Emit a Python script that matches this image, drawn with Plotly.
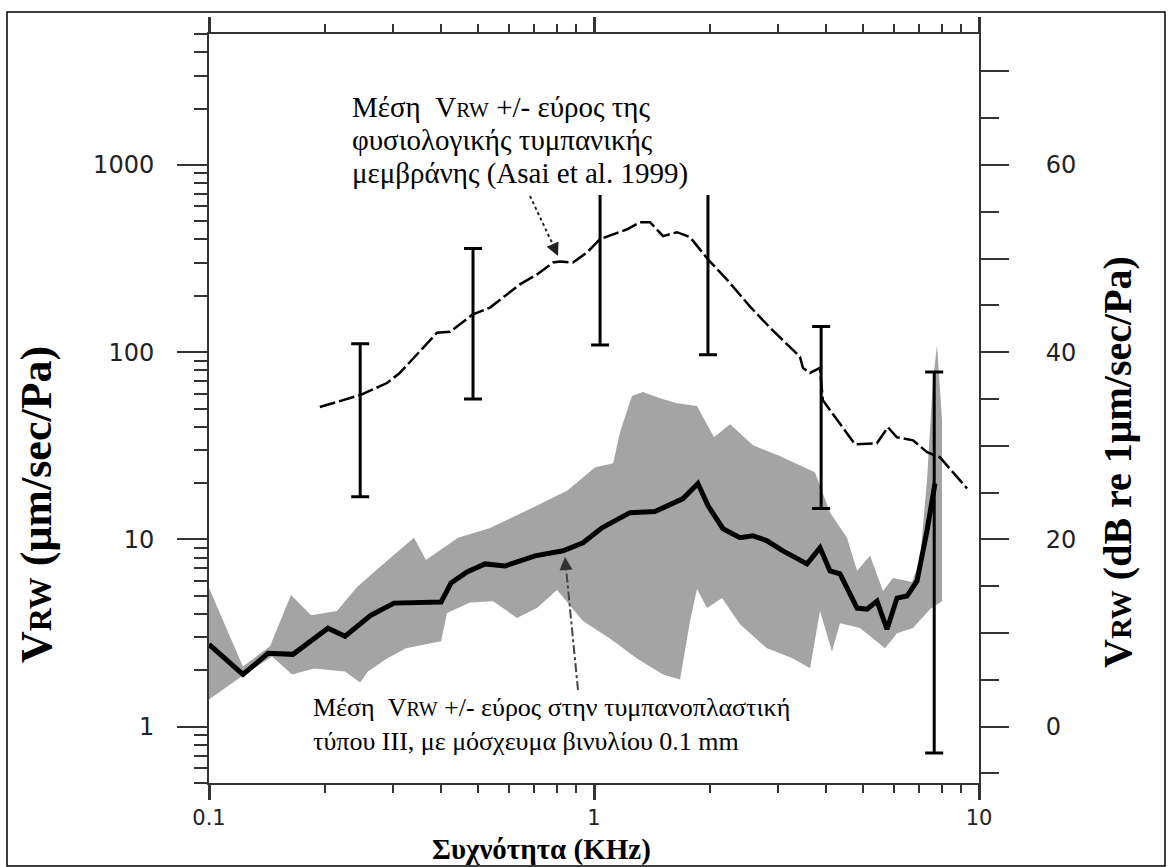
import math
import plotly.graph_objects as go

# ---------------- data ----------------
# Normal TM mean (Asai et al. 1999), dashed curve
normal_x = [0.194, 0.247, 0.290, 0.313, 0.391, 0.423, 0.482, 0.537, 0.594, 0.642,
            0.711, 0.783, 0.816, 0.882, 0.959, 1.037, 1.219, 1.316, 1.398, 1.511,
            1.643, 1.776, 1.977, 2.215, 2.543, 2.866, 3.428, 3.49, 3.64, 3.86,
            3.93, 4.355, 4.76, 5.43, 5.80, 6.12, 6.74, 7.33, 7.92, 9.31]
normal_y = [50.9, 59, 68.4, 77.4, 127, 128.5, 158, 173, 203, 230,
            260, 301, 305, 301, 341, 401, 453, 494, 494, 416,
            437, 411, 313, 244, 175, 135, 94.4, 82.3, 77.4, 82.3,
            55.4, 41.7, 32.2, 32.6, 39.7, 35.1, 33.8, 29.2, 27.4, 18.7]

# Normal TM range (error bars)
range_x = [0.247, 0.485, 1.037, 1.977, 3.89, 7.65]
range_lo = [16.9, 56.2, 109, 96.7, 14.6, 0.724]
range_hi = [110.8, 358, 1100, 1100, 137, 78.4]

# Type III tympanoplasty mean (thick line)
tymp_x = [0.100, 0.1225, 0.1423, 0.1652, 0.2037, 0.2256, 0.2635, 0.3024, 0.4006, 0.4252,
          0.4679, 0.5212, 0.5875, 0.7028, 0.8310, 0.9363, 1.049, 1.240, 1.440, 1.703,
          1.862, 1.977, 2.163, 2.394, 2.588, 2.814, 3.096, 3.575, 3.864, 4.102,
          4.355, 4.822, 5.119, 5.434, 5.768, 6.124, 6.501, 6.902, 7.327, 7.686]
tymp_y = [2.752, 1.899, 2.462, 2.432, 3.355, 3.038, 3.938, 4.567, 4.625, 5.848,
          6.70, 7.396, 7.216, 8.166, 8.687, 9.59, 11.54, 13.89, 14.07, 16.51,
          19.88, 15.15, 11.40, 10.20, 10.45, 9.83, 8.687, 7.396, 9.01, 6.785,
          6.537, 4.295, 4.242, 4.682, 3.313, 4.859, 4.982, 5.995, 11.12, 19.88]

# Tympanoplasty range (grey band)
band_up_x = [0.100, 0.1225, 0.144, 0.1633, 0.1841, 0.2150, 0.2424, 0.2900, 0.3408, 0.3661,
             0.4434, 0.5370, 0.6943, 0.8509, 1.006, 1.121, 1.168, 1.255, 1.340, 1.484,
             1.643, 1.851, 2.050, 2.256, 2.588, 3.006, 3.750, 4.102, 4.541, 4.822,
             5.212, 5.632, 5.978, 6.699, 7.027, 7.327, 7.595, 7.78, 8.016]
band_up_y = [5.50, 2.097, 2.685, 5.04, 3.94, 4.14, 5.57, 7.68, 10.2, 7.77,
             10.2, 11.5, 14.8, 18.2, 24.2, 25.5, 37.3, 58.3, 61.2, 56.8,
             53.4, 51.5, 35.1, 41.2, 31.8, 28.1, 22.8, 13.9, 10.2, 6.79,
             8.17, 5.30, 6.22, 5.92, 7.68, 20.6, 71.0, 109, 43.3]
band_lo_x = [0.100, 0.1225, 0.1458, 0.1643, 0.1874, 0.2256, 0.2467, 0.2588, 0.2900, 0.3249,
             0.4006, 0.4151, 0.4764, 0.5471, 0.6310, 0.7110, 0.8014, 0.9363, 1.100, 1.293,
             1.511, 1.673, 1.776, 1.851, 1.966, 2.150, 2.394, 2.814, 3.288, 3.640,
             3.864, 4.151, 4.355, 4.909, 5.699, 6.124, 6.74, 7.457, 8.016]
band_lo_y = [1.394, 1.876, 2.372, 1.899, 2.046, 1.971, 1.720, 1.971, 2.314, 2.619,
             2.856, 4.04, 4.6, 4.68, 3.80, 4.30, 5.36, 3.66, 2.96, 2.314,
             1.899, 1.785, 3.66, 5.43, 4.30, 4.86, 3.52, 2.62, 2.31, 2.05,
             4.14, 2.52, 3.57, 3.36, 2.62, 3.15, 3.36, 4.24, 4.68]

x_tickvals = [0.1, 1, 10]
x_ticktext = ["0.1", "1", "10"]
y_tickvals = [1, 10, 100, 1000]
y_ticktext = ["1", "10", "100", "1000"]
db_tickvals = [0, 10, 20, 30, 40, 50, 60, 70]
db_ticktext = ["0", "", "20", "", "40", "", "60", ""]

Y_MIN, Y_MAX = 0.5, 5000

# ---------------- figure ----------------
W, H = 1168, 867
L, R, T, B = 209, 1168 - 979, 34, 867 - 783

tick_font = dict(family="DejaVu Sans", size=24, color="#222222")
xtick_font = dict(family="DejaVu Sans", size=21, color="#222222")
serif = "Liberation Serif, Times New Roman, serif"

fig = go.Figure()

# grey band
fig.add_trace(go.Scatter(
    x=band_up_x + band_lo_x[::-1],
    y=band_up_y + band_lo_y[::-1],
    fill="toself", fillcolor="#a4a4a4", mode="none",
    hoverinfo="skip", showlegend=False))

# thick tympanoplasty mean
fig.add_trace(go.Scatter(
    x=tymp_x, y=tymp_y, mode="lines",
    line=dict(color="black", width=5), showlegend=False))

# same mean expressed in dB on the right-hand axis (invisible, keeps that axis active)
fig.add_trace(go.Scatter(
    x=tymp_x, y=[20 * math.log10(v) for v in tymp_y], yaxis="y2",
    mode="markers", marker=dict(size=1, opacity=0),
    hoverinfo="skip", showlegend=False))

# dashed normal mean
fig.add_trace(go.Scatter(
    x=normal_x, y=normal_y, mode="lines",
    line=dict(color="black", width=2.5, dash="16px,4px"), showlegend=False))

# error bars for normal range
fig.add_trace(go.Scatter(
    x=range_x, y=range_lo, mode="markers",
    marker=dict(size=1, opacity=0),
    error_y=dict(type="data", symmetric=False,
                 array=[h - l for h, l in zip(range_hi, range_lo)],
                 arrayminus=[0] * len(range_lo),
                 color="black", thickness=3, width=9),
    showlegend=False))

minor_x = [m * 10 ** e for e in (-1, 0) for m in range(2, 10)]
minor_y = [m * 10 ** e for e in (-1, 0, 1, 2, 3) for m in range(2, 10)
           if Y_MIN <= m * 10 ** e <= Y_MAX]

fig.update_layout(
    width=W, height=H,
    margin=dict(l=L, r=R, t=T, b=B, pad=0),
    paper_bgcolor="white", plot_bgcolor="white",
    showlegend=False,
    xaxis=dict(
        type="log", range=[-1, 1],
        tickmode="array", tickvals=x_tickvals, ticktext=x_ticktext,
        ticks="outside", ticklen=15, tickwidth=2.5, tickcolor="#333",
        minor=dict(tickmode="array", tickvals=minor_x, ticks="outside",
                   ticklen=8, tickwidth=2, tickcolor="#333"),
        showline=True, linecolor="#333", linewidth=2, mirror="ticks",
        showgrid=False, zeroline=False,
        tickfont=xtick_font, ticklabelstandoff=0),
    yaxis=dict(
        type="log", range=[math.log10(Y_MIN), math.log10(Y_MAX)],
        tickmode="array", tickvals=y_tickvals, ticktext=y_ticktext,
        ticks="outside", ticklen=30, tickwidth=2, tickcolor="#333",
        minor=dict(tickmode="array", tickvals=minor_y, ticks="outside",
                   ticklen=13, tickwidth=1.5, tickcolor="#333"),
        showline=True, linecolor="#333", linewidth=2,
        showgrid=False, zeroline=False,
        tickfont=tick_font, ticklabelstandoff=18),
    yaxis2=dict(
        overlaying="y", side="right", autorange=False,
        range=[20 * math.log10(Y_MIN), 20 * math.log10(Y_MAX)],
        tickmode="array", tickvals=db_tickvals, ticktext=db_ticktext,
        ticks="outside", ticklen=28, tickwidth=2, tickcolor="#333",
        minor=dict(tickmode="linear", tick0=0, dtick=5, ticks="outside",
                   ticklen=18, tickwidth=2, tickcolor="#333"),
        showline=True, linecolor="#333", linewidth=2, showticklabels=True,
        showgrid=False, zeroline=False,
        tickfont=tick_font, ticklabelstandoff=32),
)

def px(xp):
    return (xp - L) / (W - L - R)

def py(yp):
    return (H - B - yp) / (H - T - B)

shapes = [
    # outer frame of the figure
    dict(type="rect", xref="paper", yref="paper",
         x0=px(7), x1=px(1165), y0=py(866), y1=py(12),
         line=dict(color="black", width=1.5), layer="above"),
    # white box behind the upper caption
    dict(type="rect", xref="paper", yref="paper",
         x0=px(340), x1=px(735), y0=py(195), y1=py(37),
         fillcolor="white", line=dict(width=0), layer="above"),
    # dotted arrow shaft (upper caption)
    dict(type="line", xref="paper", yref="paper",
         x0=px(530), y0=py(196), x1=px(554), y1=py(247),
         line=dict(color="#222", width=2, dash="dot"), layer="above"),
    # dash-dot arrow shaft (lower caption)
    dict(type="line", xref="paper", yref="paper",
         x0=px(578), y0=py(690), x1=px(566), y1=py(568),
         line=dict(color="#444", width=2, dash="dashdot"), layer="above"),
]
fig.update_layout(shapes=shapes)

RW = "<span style='font-size:21px'>RW</span>"
RWb = "<span style='font-size:20px'>RW</span>"
RWl = "<span style='font-size:32px'>RW</span>"
RWr = "<span style='font-size:29px'>RW</span>"

ann = []
top_lines = ["Μέση  V" + RW + " +/- εύρος της",
             "φυσιολογικής τυμπανικής",
             "μεμβράνης (Asai et al. 1999)"]
for t, yc in zip(top_lines, [107, 140, 173]):
    ann.append(dict(text=t, xref="paper", yref="paper", x=px(350), y=py(yc),
                    xanchor="left", yanchor="middle", showarrow=False,
                    font=dict(family=serif, size=29, color="black")))
bot_text = ("Μέση  V" + RWb + " +/- εύρος στην τυμπανοπλαστική<br>"
            "τύπου ΙΙΙ, με μόσχευμα βινυλίου 0.1 mm")
ann.append(dict(text=bot_text, xref="paper", yref="paper", x=px(311), y=py(724),
                xanchor="left", yanchor="middle", align="left", showarrow=False,
                font=dict(family=serif, size=26, color="black")))

# arrowheads
ann.append(dict(text="", xref="paper", yref="paper", x=px(558), y=py(256),
                ax=-5, ay=-11, showarrow=True, arrowhead=2, arrowsize=1.3,
                arrowwidth=2, arrowcolor="#222", standoff=0))
ann.append(dict(text="", xref="paper", yref="paper", x=px(565), y=py(557),
                ax=1, ay=13, showarrow=True, arrowhead=2, arrowsize=1.3,
                arrowwidth=2, arrowcolor="#333", standoff=0))

# axis titles
ann.append(dict(text="<b>V" + RWl + " (μm/sec/Pa)</b>", xref="paper", yref="paper",
                x=px(36), y=py(505), textangle=-90, showarrow=False,
                xanchor="center", yanchor="middle",
                font=dict(family=serif, size=44, color="black")))
ann.append(dict(text="<b>V" + RWr + " (dB re 1μm/sec/Pa)</b>", xref="paper", yref="paper",
                x=px(1117), y=py(462), textangle=-90, showarrow=False,
                xanchor="center", yanchor="middle",
                font=dict(family=serif, size=40, color="black")))
ann.append(dict(text="<b>Συχνότητα (KHz)</b>", xref="paper", yref="paper",
                x=px(541), y=py(849), showarrow=False,
                xanchor="center", yanchor="middle",
                font=dict(family=serif, size=29, color="black")))
fig.update_layout(annotations=ann)

fig.write_html("out.html")
